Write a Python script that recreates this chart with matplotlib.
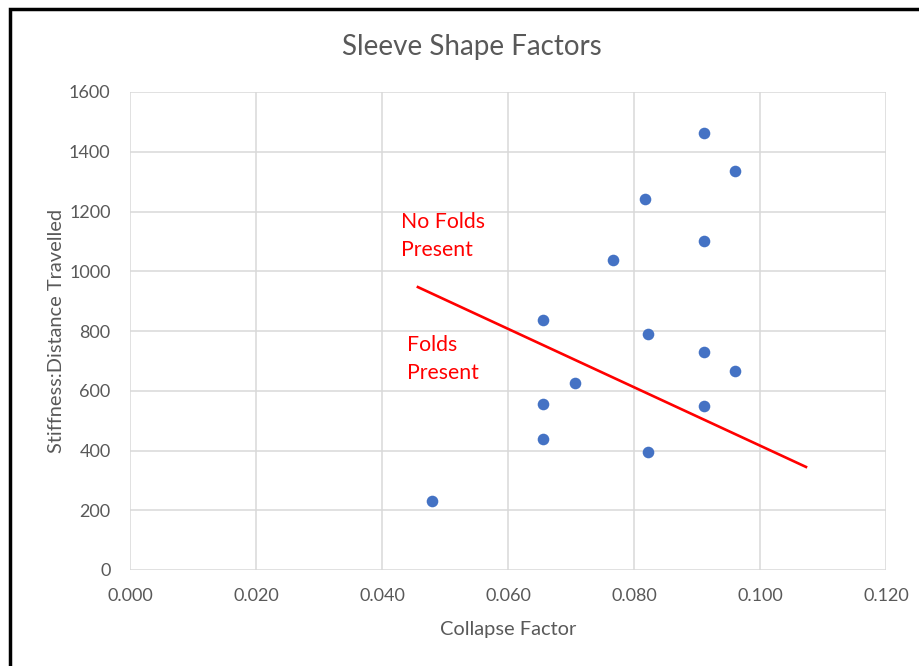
import matplotlib
matplotlib.use("Agg")
import matplotlib.pyplot as plt
from matplotlib.patches import Rectangle

plt.rcParams['font.family'] = ['Lato', 'DejaVu Sans']

collapse = [0.048, 0.0656, 0.0656, 0.0656, 0.0706, 0.0767, 0.0817, 0.0822, 0.0822,
            0.0911, 0.0911, 0.0911, 0.0911, 0.0960, 0.0960]
stiffness = [230, 438, 556, 837, 626, 1038, 1242, 790, 395,
             1463, 1101, 730, 549, 1336, 666]
boundary_x = [0.0457, 0.1073]
boundary_y = [947, 345]
xticks = [0.0, 0.02, 0.04, 0.06, 0.08, 0.10, 0.12]
yticks = [0, 200, 400, 600, 800, 1000, 1200, 1400, 1600]

fig = plt.figure(figsize=(9.19, 6.66), dpi=100)
ax = fig.add_axes([130/919, 1-570/666, 756/919, 478/666])

ax.scatter(collapse, stiffness, s=70, color='#4472C4', zorder=3, linewidths=0)
ax.plot(boundary_x, boundary_y, color='#FF0000', linewidth=1.9, zorder=4)

ax.text(0.0430, 1200, "No Folds\nPresent", color='#FF0000', fontsize=15.3,
        va='top', ha='left', linespacing=1.5)
ax.text(0.0440, 786, "Folds\nPresent", color='#FF0000', fontsize=15.3,
        va='top', ha='left', linespacing=1.5)

ax.set_xlim(0, 0.12)
ax.set_ylim(0, 1600)
ax.set_xticks(xticks)
ax.set_yticks(yticks)
ax.set_xticklabels([f"{v:.3f}" for v in xticks])
ax.set_yticklabels([str(v) for v in yticks])
ax.grid(True, color='#D9D9D9', linewidth=1.1)
ax.set_axisbelow(True)
for s in ax.spines.values():
    s.set_visible(False)
ax.tick_params(length=0, colors='#595959', labelsize=13, pad=14)
ax.tick_params(axis='x', pad=13)

ax.set_xlabel("Collapse Factor", color='#595959', fontsize=14.4, labelpad=12)
ax.set_ylabel("Stiffness:Distance Travelled", color='#595959', fontsize=14.4, labelpad=3)
fig.text(472/919, 1-47/666, "Sleeve Shape Factors", color='#595959', fontsize=20,
         ha='center', va='center')

fig.patches.append(Rectangle((10/919, -0.1), 1.2, 1-9/666+0.1, transform=fig.transFigure,
                             fill=False, edgecolor='black', linewidth=2.5, zorder=10))

fig.savefig("out.png", dpi=100)
